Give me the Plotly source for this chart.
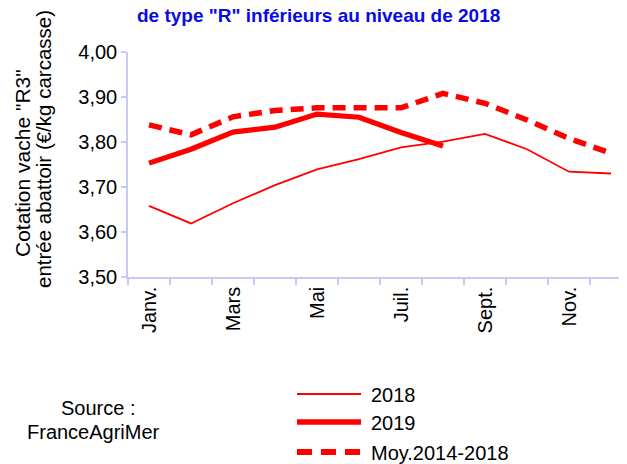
import plotly.graph_objects as go

months = ["Janv.", "Févr.", "Mars", "Avr.", "Mai", "Juin", "Juil.", "Août", "Sept.", "Oct.", "Nov.", "Déc."]
month_labels = ["Janv.", "", "Mars", "", "Mai", "", "Juil.", "", "Sept.", "", "Nov.", ""]
v2018 = [3.658, 3.619, 3.664, 3.704, 3.739, 3.762, 3.788, 3.801, 3.818, 3.784, 3.734, 3.730]
v2019 = [3.753, 3.784, 3.822, 3.833, 3.862, 3.855, 3.821, 3.791]
moy = [3.838, 3.816, 3.856, 3.870, 3.876, 3.876, 3.876, 3.908, 3.886, 3.849, 3.808, 3.775]
series_names = ["2018", "2019", "Moy.2014-2018"]
y_ticks = [3.5, 3.6, 3.7, 3.8, 3.9, 4.0]

RED = "#ff0000"
AX = "#c8c8f5"
FONT = "Liberation Sans, Arial, sans-serif"

OFF = 8  # page body margin
W, H = 627 - OFF, 464 - OFF
L, T, B, R = 128 - OFF, 52 - OFF, 187, 0
pw, ph = W - L - R, H - T - B


def px(x):
    return (x - OFF - L) / pw


def py(y):
    return (H - B - (y - OFF)) / ph


fig = go.Figure()
fig.add_trace(go.Scatter(x=months, y=v2018, mode="lines", name=series_names[0],
                         line=dict(color=RED, width=1.8)))
fig.add_trace(go.Scatter(x=months, y=moy, mode="lines", name=series_names[2],
                         line=dict(color=RED, width=5.5, dash="13px,8px")))
fig.add_trace(go.Scatter(x=months[:len(v2019)], y=v2019, mode="lines", name=series_names[1],
                         line=dict(color=RED, width=5.2)))

# x range: 12 categories, 42px each; plot cut at right edge
x_end = -0.5 + pw / 42.0

fig.update_layout(
    width=W, height=H,
    margin=dict(l=L, r=R, t=T, b=B, pad=0),
    paper_bgcolor="white", plot_bgcolor="white",
    showlegend=False,
    separators=", ",
    font=dict(family=FONT, size=20, color="black"),
    xaxis=dict(
        type="category", categoryorder="array", categoryarray=months,
        range=[-0.5, x_end],
        tickmode="array", tickvals=months, ticktext=month_labels,
        tickson="boundaries",
        ticks="outside", ticklen=6, tickwidth=1.5, tickcolor=AX,
        showline=True, linecolor=AX, linewidth=1.5,
        showgrid=False, zeroline=False,
        tickangle=-90, tickfont=dict(size=20, family=FONT),
    ),
    yaxis=dict(
        range=[3.5, 4.0], tickmode="array", tickvals=y_ticks,
        tickformat=".2f",
        ticks="outside", ticklen=5, tickwidth=1.5, tickcolor=AX,
        showline=True, linecolor=AX, linewidth=1.5,
        showgrid=False, zeroline=False,
        tickfont=dict(size=20, family=FONT),
    ),
)

annotations = [
    dict(text='<b>de type "R" inférieurs au niveau de 2018</b>', x=px(318), y=py(15),
         font=dict(size=19, color="#0a0ae6", family=FONT)),
    dict(text='Cotation vache "R3"', x=px(22), y=py(163), textangle=-90,
         font=dict(size=21, family=FONT)),
    dict(text="entrée abattoir (€/kg carcasse)", x=px(43), y=py(149), textangle=-90,
         font=dict(size=20.5, family=FONT)),
    dict(text="Source :", x=px(98), y=py(408), font=dict(size=20, family=FONT)),
    dict(text="FranceAgriMer", x=px(93), y=py(432), font=dict(size=20, family=FONT)),
]
for a in annotations:
    a.update(xref="paper", yref="paper", showarrow=False, xanchor="center", yanchor="middle")

# custom legend
legend_rows = [(394, 1.8, "solid"), (422, 5.5, "solid"), (452, 6, "15px,9px")]
shapes = []
for name, (yy, w, d) in zip(series_names, legend_rows):
    shapes.append(dict(type="line", xref="paper", yref="paper",
                       x0=px(297), x1=px(361), y0=py(yy), y1=py(yy),
                       line=dict(color=RED, width=w, dash=d)))
    annotations.append(dict(text=name, xref="paper", yref="paper", x=px(369), y=py(yy + 1),
                            xanchor="left", yanchor="middle", showarrow=False,
                            font=dict(size=20, family=FONT)))

fig.update_layout(annotations=annotations, shapes=shapes)
fig.write_html("out.html")
